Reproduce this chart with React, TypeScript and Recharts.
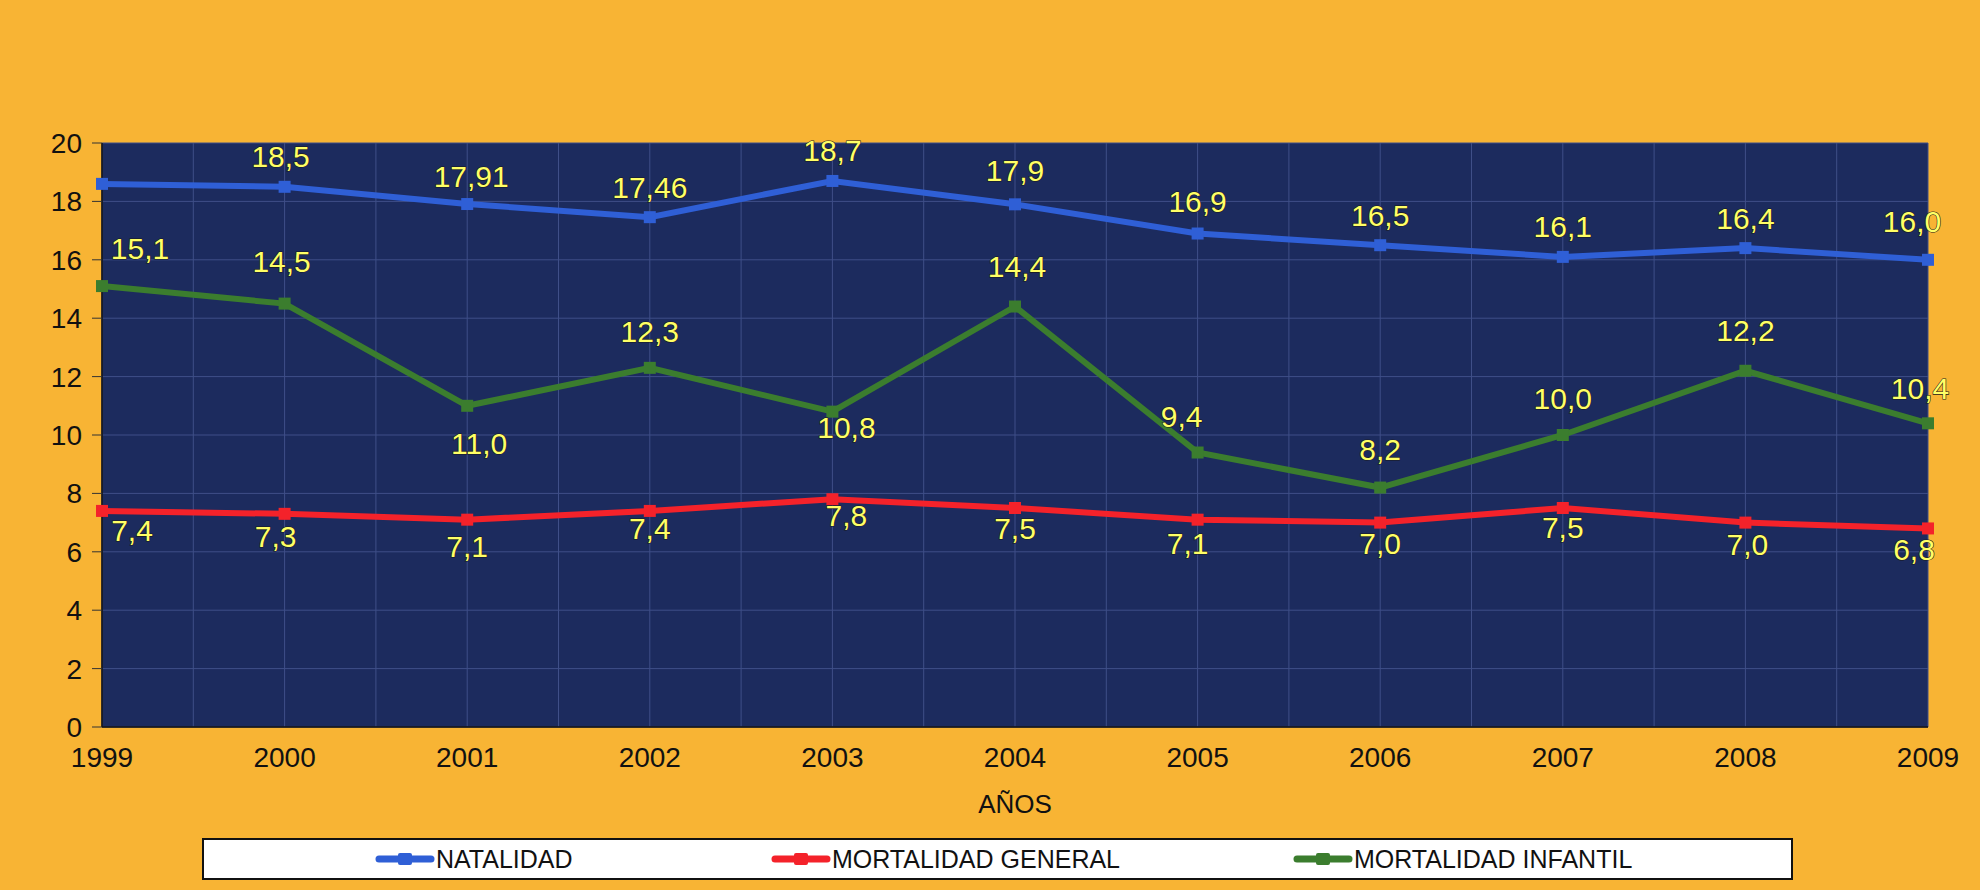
import { LineChart, Line, XAxis, YAxis, CartesianGrid, LabelList } from 'recharts'

const years = ['1999', '2000', '2001', '2002', '2003', '2004', '2005', '2006', '2007', '2008', '2009']
const natalidad = [18.6, 18.5, 17.91, 17.46, 18.7, 17.9, 16.9, 16.5, 16.1, 16.4, 16.0]
const mortalidadGeneral = [7.4, 7.3, 7.1, 7.4, 7.8, 7.5, 7.1, 7.0, 7.5, 7.0, 6.8]
const mortalidadInfantil = [15.1, 14.5, 11.0, 12.3, 10.8, 14.4, 9.4, 8.2, 10.0, 12.2, 10.4]
const yTicks = [0, 2, 4, 6, 8, 10, 12, 14, 16, 18, 20]

// label placement (dx, dy from the point); null = no label
const natOffsets: ([number, number] | null)[] = [null, [-4, -30], [4, -28], [0, -30], [0, -30], [0, -34], [0, -32], [0, -30], [0, -30], [0, -30], [-16, -38]]
const genOffsets: [number, number][] = [[30, 20], [-9, 23], [0, 27], [0, 18], [14, 16], [0, 20], [-10, 24], [0, 21], [0, 19], [2, 22], [-14, 21]]
const infOffsets: [number, number][] = [[38, -38], [-3, -42], [12, 38], [0, -36], [14, 16], [2, -40], [-16, -36], [0, -38], [0, -37], [0, -40], [-8, -35]]

const series = [
  { key: 'natalidad', name: 'NATALIDAD', color: '#2f5fd6', offsets: natOffsets },
  { key: 'general', name: 'MORTALIDAD GENERAL', color: '#f4222a', offsets: genOffsets },
  { key: 'infantil', name: 'MORTALIDAD INFANTIL', color: '#3b7d2e', offsets: infOffsets },
]

const data = years.map((year, i) => ({
  year,
  natalidad: natalidad[i],
  general: mortalidadGeneral[i],
  infantil: mortalidadInfantil[i],
}))

const fmt = (v: number) => {
  const s = Math.round(v * 10) === v * 10 ? v.toFixed(1) : v.toFixed(2)
  return s.replace('.', ',')
}

const FONT = '"Liberation Sans", Arial, sans-serif'

const makeLabel = (offsets: ([number, number] | null)[]) => (props: any) => {
  const { x, y, value, index } = props
  const off = offsets[index]
  if (!off) return null
  return (
    <text
      x={x + off[0]}
      y={y + off[1]}
      textAnchor="middle"
      dominantBaseline="central"
      fontFamily={FONT}
      fontSize={30}
      fill="#ffff66"
      stroke="#1a1a1a"
      strokeWidth={1.2}
      paintOrder="stroke"
    >
      {fmt(value)}
    </text>
  )
}

const LegendIcon = ({ color }: { color: string }) => (
  <svg width={62} height={18} style={{ display: 'block' }}>
    <line x1={5} y1={9} x2={57} y2={9} stroke={color} strokeWidth={7} strokeLinecap="round" />
    <rect x={24} y={3} width={14} height={12} rx={2} fill={color} />
  </svg>
)

const legendX = [372, 768, 1290]

export default function App() {
  return (
    <div style={{ position: 'absolute', left: 0, top: 0, width: 1980, height: 890, background: '#f8b434', overflow: 'hidden' }}>
      <LineChart width={1980} height={890} data={data} margin={{ top: 143, right: 52, left: 0, bottom: 63 }}>
        <CartesianGrid
          fill="#1c2b5e"
          stroke="#3f4f88"
          strokeWidth={1}
          verticalCoordinatesGenerator={({ offset }: any) =>
            Array.from({ length: 21 }, (_, i) => offset.left + (offset.width * i) / 20)
          }
        />
        <XAxis
          dataKey="year"
          tick={{ fontSize: 28, fill: '#111', fontFamily: FONT }}
          tickLine={false}
          tickSize={0}
          tickMargin={20}
          axisLine={{ stroke: '#111', strokeWidth: 1.5 }}
          height={100}
          label={{ value: 'AÑOS', position: 'insideBottom', offset: 14, fontSize: 26, fill: '#111', fontFamily: FONT }}
        />
        <YAxis
          domain={[0, 20]}
          ticks={yTicks}
          width={102}
          tick={{ fontSize: 28, fill: '#111', fontFamily: FONT }}
          tickSize={10}
          tickMargin={10}
          tickLine={{ stroke: '#333' }}
          axisLine={{ stroke: '#111', strokeWidth: 1.5 }}
        />
        {series.map(s => (
          <Line
            key={s.key}
            type="linear"
            dataKey={s.key}
            name={s.name}
            stroke={s.color}
            strokeWidth={6}
            dot={(p: any) => (
              <rect key={`${s.key}-${p.index}`} x={p.cx - 6} y={p.cy - 6} width={12} height={12} fill={s.color} />
            )}
            isAnimationActive={false}
          >
            <LabelList dataKey={s.key} content={makeLabel(s.offsets)} />
          </Line>
        ))}
      </LineChart>
      <div
        style={{
          position: 'absolute',
          left: 202,
          top: 838,
          width: 1591,
          height: 42,
          boxSizing: 'border-box',
          background: '#fff',
          border: '2px solid #111',
        }}
      >
        {series.map((s, i) => (
          <div
            key={s.key}
            style={{
              position: 'absolute',
              left: legendX[i] - 202,
              top: 0,
              height: 38,
              display: 'flex',
              alignItems: 'center',
              fontFamily: FONT,
              fontSize: 25,
              color: '#111',
            }}
          >
            <LegendIcon color={s.color} />
            <span>{s.name}</span>
          </div>
        ))}
      </div>
    </div>
  )
}
